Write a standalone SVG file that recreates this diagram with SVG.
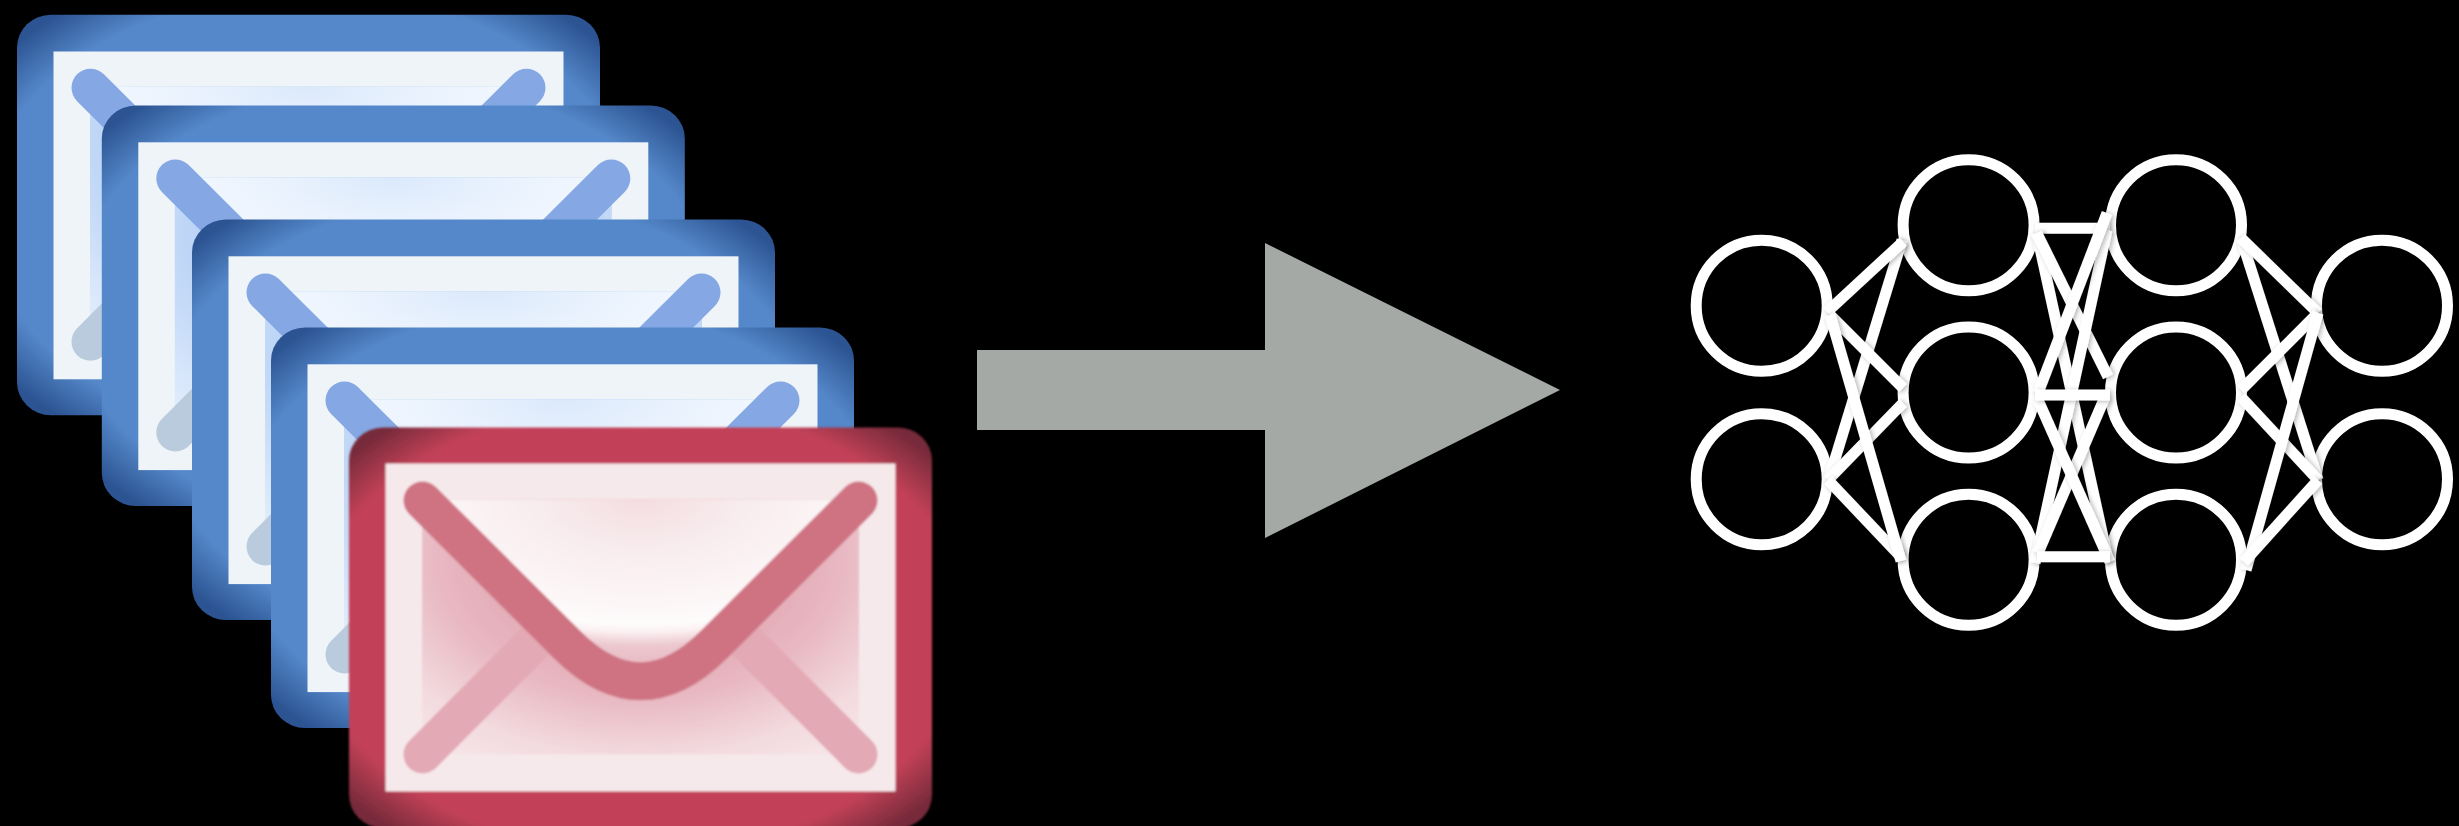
<svg xmlns="http://www.w3.org/2000/svg" width="2459" height="826" viewBox="0 0 2459 826">
<style>
.v{fill:none;stroke-width:38;stroke-linecap:round;stroke-linejoin:round}
.l{stroke-width:38;stroke-linecap:round;fill:none}
.n{fill:none;stroke:#fff;stroke-width:11}
.e{stroke:#fff;stroke-width:11;fill:none;filter:url(#sh)}
</style>
<defs>
<filter id="sh" filterUnits="userSpaceOnUse" x="1780" y="180" width="600" height="420"><feDropShadow dx="2" dy="1" stdDeviation="2.5" flood-color="#000" flood-opacity=".3"/></filter>
<radialGradient id="bf" cx=".5" cy=".5" r=".66"><stop offset=".84" stop-color="#5588ca"/><stop offset="1" stop-color="#2c5492"/></radialGradient>
<radialGradient id="rf" cx=".5" cy=".5" r=".66"><stop offset=".85" stop-color="#c24158"/><stop offset="1" stop-color="#772a3a"/></radialGradient>
<radialGradient id="bs" gradientUnits="userSpaceOnUse" cx="0" cy="0" r="1" gradientTransform="translate(291 130) scale(333 230)"><stop offset="0" stop-color="#a9c6f2"/><stop offset=".43" stop-color="#b0cbf3"/><stop offset=".61" stop-color="#bdd5f6"/><stop offset=".87" stop-color="#d7e6fb"/><stop offset="1" stop-color="#e0edfc"/></radialGradient>
<radialGradient id="bt" gradientUnits="userSpaceOnUse" cx="0" cy="0" r="1" gradientTransform="translate(291 72) scale(340 130)"><stop offset="0" stop-color="#dbe9fb"/><stop offset=".25" stop-color="#e6f0fd"/><stop offset=".56" stop-color="#f0f6fe"/><stop offset="1" stop-color="#f8fbff"/></radialGradient>
<radialGradient id="rs" gradientUnits="userSpaceOnUse" cx="0" cy="0" r="1" gradientTransform="translate(291 130) scale(333 230)"><stop offset="0" stop-color="#e0a5b0"/><stop offset=".43" stop-color="#e3acb6"/><stop offset=".61" stop-color="#e8b8c2"/><stop offset=".87" stop-color="#f3dbdf"/><stop offset="1" stop-color="#f5e3e6"/></radialGradient>
<radialGradient id="rt" gradientUnits="userSpaceOnUse" cx="0" cy="0" r="1" gradientTransform="translate(291 72) scale(340 170)"><stop offset="0" stop-color="#f4dde0"/><stop offset=".3" stop-color="#f8ecee"/><stop offset=".74" stop-color="#fefbfb"/><stop offset=".78" stop-color="#fbf0f2"/><stop offset=".86" stop-color="#ecc8cf"/><stop offset="1" stop-color="#e8b8c1"/></radialGradient>
<filter id="soft" x="-2%" y="-2%" width="104%" height="104%"><feGaussianBlur stdDeviation="0.9"/></filter>
<g id="blue">
<rect width="583" height="400.5" rx="34" ry="33" fill="url(#bf)"/>
<rect x="36.5" y="36.8" width="510" height="327.8" fill="#eef4f8"/>
<rect x="73" y="72" width="437" height="255" fill="url(#bs)"/>
<path d="M73 72H510L365 217Q291.5 290.5 218 217Z" fill="url(#bt)"/>
<path class="l" stroke="#b9cbdd" d="M73.5 327L200 200M509.5 327L383 200"/>
<path class="v" stroke="#85a8e4" d="M73.5 73L218 217Q291.5 290.5 365 217L509.5 73"/>
</g>
</defs>
<rect width="2459" height="826" fill="#000"/>
<g id="mail-1" transform="translate(17 14.7)"><use href="#blue"/></g>
<g id="mail-2" transform="translate(101.8 105.5)"><use href="#blue"/></g>
<g id="mail-3" transform="translate(192 219.5)"><use href="#blue"/></g>
<g id="mail-4" transform="translate(271 327.5)"><use href="#blue"/></g>
<g id="mail-red" transform="translate(349 427.5)" filter="url(#soft)">
<rect width="583" height="400.5" rx="34" ry="33" fill="url(#rf)"/>
<rect x="36.5" y="36" width="510" height="328" fill="#f6e9eb"/>
<rect x="73" y="72" width="437" height="255" fill="url(#rs)"/>
<path d="M73 72H510L365 217Q291.5 290.5 218 217Z" fill="url(#rt)"/>
<path class="l" stroke="#e3a9b4" d="M73.5 327L200 200M509.5 327L383 200"/>
<path class="v" stroke="#cf7383" d="M73.5 73L218 217Q291.5 290.5 365 217L509.5 73"/>
</g>
<polygon id="arrow" fill="#a5a9a6" points="977,350 1265,350 1265,243 1560,390 1265,538 1265,430 977,430"/>
<g id="n11"><circle class="n" cx="1761.7" cy="305.8" r="65.5"/></g>
<g id="n12"><circle class="n" cx="1761.7" cy="479.2" r="65.5"/></g>
<g id="n21"><circle class="n" cx="1968.6" cy="225.3" r="65.5"/></g>
<g id="n22"><circle class="n" cx="1968.6" cy="392.5" r="65.5"/></g>
<g id="n23"><circle class="n" cx="1968.6" cy="559.7" r="65.5"/></g>
<g id="n31"><circle class="n" cx="2176" cy="225.3" r="65.5"/></g>
<g id="n32"><circle class="n" cx="2176" cy="392.5" r="65.5"/></g>
<g id="n33"><circle class="n" cx="2176" cy="559.7" r="65.5"/></g>
<g id="n41"><circle class="n" cx="2382" cy="305.8" r="65.5"/></g>
<g id="n42"><circle class="n" cx="2382" cy="479.2" r="65.5"/></g>
<g id="connectors">
<path class="e" d="M1828 482L1902 240"/>
<path class="e" d="M1828 480L1903 403"/>
<path class="e" d="M1828 480L1901 557"/>
<path class="e" d="M1827 312L1903 241.7"/>
<path class="e" d="M1830 315L1903 388"/>
<path class="e" d="M1830 315L1901 561"/>
<path class="e" d="M2035 228.3H2110"/>
<path class="e" d="M2036.7 233L2108 560"/>
<path class="e" d="M2036.7 233L2108 376.7"/>
<path class="e" d="M2035 563L2107 230"/>
<path class="e" d="M2038 553L2105 397"/>
<path class="e" d="M2038 393L2107 213"/>
<path class="e" d="M2038 400L2110 562"/>
<path class="e" d="M2035 395H2110"/>
<path class="e" d="M2037 556.7H2110"/>
<path class="e" d="M2241 238L2318 480"/>
<path class="e" d="M2241 238L2318 313"/>
<path class="e" d="M2241 390L2318 313"/>
<path class="e" d="M2241 397L2318 480"/>
<path class="e" d="M2246 570L2318 313"/>
<path class="e" d="M2244 562L2318 480"/>
</g>
</svg>
